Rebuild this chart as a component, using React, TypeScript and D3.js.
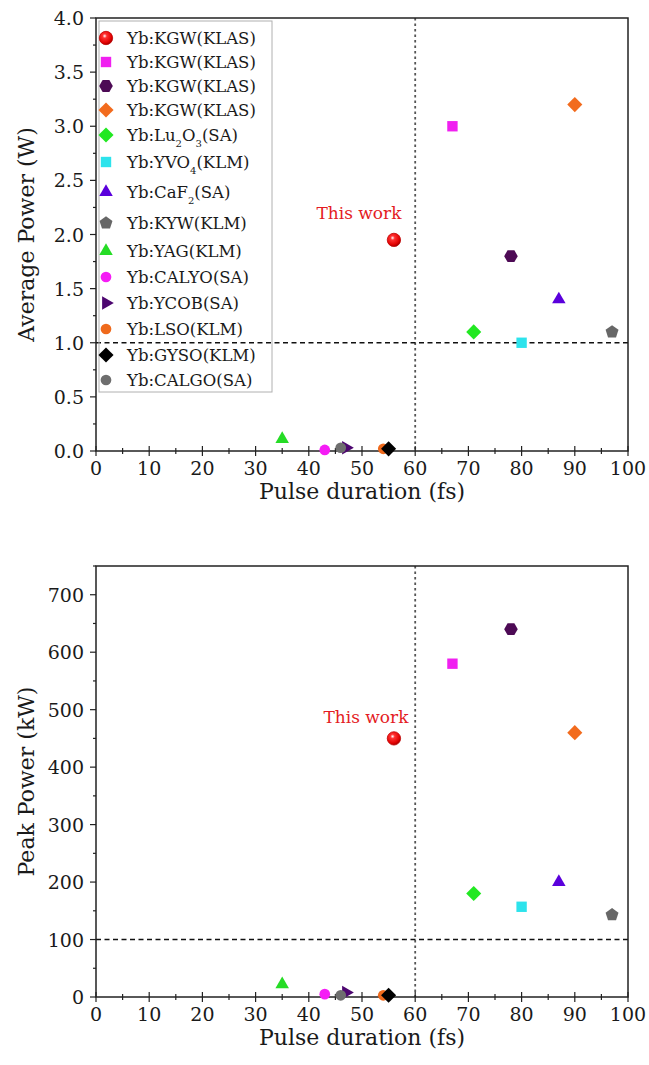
import React, { useEffect, useRef } from "react";
import * as d3 from "d3";

// legend labels, "_n" marks a subscript digit
const labels = [
  "Yb:KGW(KLAS)",
  "Yb:KGW(KLAS)",
  "Yb:KGW(KLAS)",
  "Yb:KGW(KLAS)",
  "Yb:Lu_2O_3(SA)",
  "Yb:YVO_4(KLM)",
  "Yb:CaF_2(SA)",
  "Yb:KYW(KLM)",
  "Yb:YAG(KLM)",
  "Yb:CALYO(SA)",
  "Yb:YCOB(SA)",
  "Yb:LSO(KLM)",
  "Yb:GYSO(KLM)",
  "Yb:CALGO(SA)",
];
const shapes = ["sphere", "square", "hexagon", "diamond", "diamond", "square", "triangle", "pentagon", "triangle", "circle", "right", "circle", "diamond", "circle"];
const colors = ["#f01010", "#f020f0", "#4d0a55", "#f26b1d", "#22e822", "#2de3ec", "#5a00dc", "#676767", "#26dc26", "#f51cf5", "#4d0670", "#ef6a1c", "#000000", "#6e6e6e"];

// pulse duration (fs), average power (W), peak power (kW)
const pulseFs = [56, 67, 78, 90, 71, 80, 87, 97, 35, 43, 47, 54, 55, 46];
const avgPowerW = [1.95, 3.0, 1.8, 3.2, 1.1, 1.0, 1.4, 1.1, 0.11, 0.01, 0.03, 0.02, 0.02, 0.03];
const peakPowerKW = [450, 580, 640, 460, 180, 157, 200, 143, 22, 5, 8, 3, 3, 3];

const xTicks = [0, 10, 20, 30, 40, 50, 60, 70, 80, 90, 100];
const avgTicks = [0, 0.5, 1.0, 1.5, 2.0, 2.5, 3.0, 3.5, 4.0];
const peakTicks = [0, 100, 200, 300, 400, 500, 600, 700];

const FONT = "'DejaVu Serif', serif";
const INK = "#1a1a1a";

// polygon symbol for d3.symbol
const polygon = (n, rot, scale = 1) => ({
  draw(ctx, size) {
    const r = Math.sqrt(size) * scale;
    for (let i = 0; i < n; i++) {
      const a = rot + (i * 2 * Math.PI) / n;
      const x = r * Math.cos(a);
      const y = r * Math.sin(a);
      if (i === 0) ctx.moveTo(x, y);
      else ctx.lineTo(x, y);
    }
    ctx.closePath();
  },
});

const symbolTypes = {
  circle: d3.symbolCircle,
  sphere: d3.symbolCircle,
  square: polygon(4, Math.PI / 4, 0.7),
  diamond: polygon(4, -Math.PI / 2, 0.72),
  hexagon: polygon(6, 0, 0.62),
  pentagon: polygon(5, -Math.PI / 2, 0.62),
  triangle: polygon(3, -Math.PI / 2, 0.78),
  right: polygon(3, 0, 0.78),
};
const symbolSize = {
  circle: 90, sphere: 140, square: 110, diamond: 110, hexagon: 120, pentagon: 120, triangle: 100, right: 100,
};

const App = () => {
  const svgRef = useRef(null);

  useEffect(() => {
    const svg = d3.select(svgRef.current);
    svg.selectAll("*").remove();

    const defs = svg.append("defs");
    const grad = defs.append("radialGradient").attr("id", "sphere").attr("cx", "40%").attr("cy", "35%").attr("r", "65%");
    grad.append("stop").attr("offset", "0%").attr("stop-color", "#ffffff");
    grad.append("stop").attr("offset", "25%").attr("stop-color", "#ff3030");
    grad.append("stop").attr("offset", "80%").attr("stop-color", "#e00000");
    grad.append("stop").attr("offset", "100%").attr("stop-color", "#a00000");

    const x = d3.scaleLinear().domain([0, 100]).range([96, 628]);

    const drawMarker = (g, i, px, py) => {
      const sh = shapes[i];
      const path = d3.symbol().type(symbolTypes[sh]).size(symbolSize[sh])();
      g.append("path")
        .attr("d", path)
        .attr("transform", `translate(${px},${py})`)
        .attr("fill", sh === "sphere" ? "url(#sphere)" : colors[i])
        .attr("stroke", sh === "sphere" ? "#c00000" : "none")
        .attr("stroke-width", 0.8);
    };

    const panel = (values, yDomain, yRange, ticks, fmt, minorStep, refY, yTitle, labelPos, showLegend) => {
      const y = d3.scaleLinear().domain(yDomain).range(yRange);
      const g = svg.append("g");
      const [x0, x1] = x.range();
      const [yb, yt] = yRange;

      // reference lines
      g.append("line")
        .attr("x1", x(60)).attr("x2", x(60)).attr("y1", yt).attr("y2", yb)
        .attr("stroke", "#555").attr("stroke-width", 1.8).attr("stroke-dasharray", "2.5,3");
      g.append("line")
        .attr("x1", x0).attr("x2", x1).attr("y1", y(refY)).attr("y2", y(refY))
        .attr("stroke", "#111").attr("stroke-width", 1.4).attr("stroke-dasharray", "5,3.5");

      // frame
      g.append("rect")
        .attr("x", x0).attr("y", yt).attr("width", x1 - x0).attr("height", yb - yt)
        .attr("fill", "none").attr("stroke", "#222").attr("stroke-width", 1.5);

      // x ticks
      const xMinor = d3.range(0, 100.1, 5);
      xMinor.forEach((v) => {
        const major = v % 10 === 0;
        g.append("line")
          .attr("x1", x(v)).attr("x2", x(v))
          .attr("y1", yb - (major ? 5 : 3)).attr("y2", yb + (major ? 5 : 3))
          .attr("stroke", "#222").attr("stroke-width", 1.2);
      });
      xTicks.forEach((v) => {
        g.append("text")
          .attr("x", x(v)).attr("y", yb + 24)
          .attr("text-anchor", "middle")
          .attr("font-family", FONT).attr("font-size", 19).attr("fill", INK)
          .text(v);
      });
      g.append("text")
        .attr("x", (x0 + x1) / 2).attr("y", yb + 48)
        .attr("text-anchor", "middle")
        .attr("font-family", FONT).attr("font-size", 22).attr("fill", INK)
        .text("Pulse duration (fs)");

      // y ticks
      const yMinor = d3.range(yDomain[0], yDomain[1] + 1e-9, minorStep);
      yMinor.forEach((v, i) => {
        const major = i % 2 === 0;
        g.append("line")
          .attr("x1", x0 - (major ? 6 : 3)).attr("x2", x0)
          .attr("y1", y(v)).attr("y2", y(v))
          .attr("stroke", "#222").attr("stroke-width", 1.2);
      });
      ticks.forEach((v) => {
        g.append("text")
          .attr("x", x0 - 12).attr("y", y(v) + 7)
          .attr("text-anchor", "end")
          .attr("font-family", FONT).attr("font-size", 19).attr("fill", INK)
          .text(fmt(v));
      });
      g.append("text")
        .attr("transform", `translate(34,${(yb + yt) / 2}) rotate(-90)`)
        .attr("text-anchor", "middle")
        .attr("font-family", FONT).attr("font-size", 22).attr("fill", INK)
        .text(yTitle);

      // points
      values.forEach((v, i) => drawMarker(g, i, x(pulseFs[i]), y(v)));

      g.append("text")
        .attr("x", labelPos[0]).attr("y", labelPos[1])
        .attr("text-anchor", "middle")
        .attr("font-family", FONT).attr("font-size", 17).attr("fill", "#e41b23")
        .text("This work");

      if (showLegend) {
        const lg = g.append("g");
        lg.append("rect")
          .attr("x", 99).attr("y", 21).attr("width", 173).attr("height", 371)
          .attr("fill", "none").attr("stroke", "#b0b0b0").attr("stroke-width", 1);
        const rowY = [38, 62, 86, 110, 135, 162, 192, 223, 251, 277, 303, 329, 355, 380];
        labels.forEach((lab, i) => {
          drawMarker(lg, i, 106, rowY[i]);
          const t = lg.append("text")
            .attr("x", 127).attr("y", rowY[i] + 6)
            .attr("font-family", FONT).attr("font-size", 16.5).attr("fill", INK);
          const parts = lab.split(/(_\d)/).filter((p) => p.length);
          let pending = 0;
          parts.forEach((p) => {
            if (p.startsWith("_")) {
              t.append("tspan").attr("font-size", 10).attr("dy", 6 + pending).text(p.slice(1));
              pending = -6;
            } else {
              t.append("tspan").attr("dy", pending).text(p);
              pending = 0;
            }
          });
        });
      }
    };

    panel(avgPowerW, [0, 4], [451, 18], avgTicks, d3.format(".1f"), 0.25, 1.0, "Average Power (W)", [359, 219], true);
    panel(peakPowerKW, [0, 750], [997, 566], peakTicks, d3.format("d"), 50, 100, "Peak Power (kW)", [366, 723], false);
  }, []);

  return (
    <div id="svg-data">
      <svg
        ref={svgRef}
        width={649}
        height={1065}
        style={{ position: "absolute", left: 0, top: 0, background: "#fff" }}
      ></svg>
    </div>
  );
};

export default App;
